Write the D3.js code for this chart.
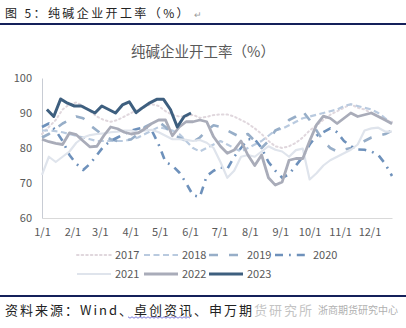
<!DOCTYPE html>
<html>
<head>
<meta charset="utf-8">
<script src="https://cdn.jsdelivr.net/npm/d3@7/dist/d3.min.js"></script>
<style>
  html, body { margin: 0; padding: 0; background: #fff; }
  svg { display: block; }
  text { font-family: "Noto Sans CJK SC", "Noto Sans", sans-serif; }
</style>
</head>
<body>
<svg id="chart" width="406" height="328"></svg>
<script>
// Weekly operating rate of soda ash producers (%), one row per year
const years = ["2017", "2018", "2019", "2020", "2021", "2022", "2023"];
const seriesStart = ["01-01", "01-01", "01-01", "01-01", "01-01", "01-01", "01-06"];

const rate2017 = [84, 86, 88, 91, 92.5, 93, 92, 90.5, 89, 88, 87.5, 88, 89, 90, 91, 92, 92.5, 92, 90.5, 89.5,
  89, 89, 89.5, 88.6, 88.9, 89.4, 89.6, 89.6, 89, 88, 87, 85.6, 84, 82, 80.5, 80, 80.5, 81.5, 83, 85,
  86.5, 88, 89.5, 90.5, 91.5, 92.5, 91.5, 91, 90, 89, 88, 87.5];
const rate2018 = [85, 85, 84.8, 84.5, 84, 83.5, 83, 82.5, 82, 82, 82, 82, 82, 82.5, 83, 84, 85, 86, 85.5, 85,
  84, 82, 80, 79, 80, 81, 82, 81, 80, 79, 80, 81, 82, 83.5, 85, 85.5, 86.5, 87.5, 88.5, 89,
  89.5, 90, 90.5, 91, 92, 92.5, 92, 91.5, 91, 90, 88.5, 87];
const rate2019 = [83, 84, 85.5, 87, 88, 89, 88.5, 86.5, 85, 83.5, 82.5, 82, 82, 82.5, 84, 86, 87, 87.5, 86, 84,
  83, 82, 81.8, 83, 85, 86.5, 86, 85, 84, 83, 84, 82, 80, 82, 85, 86, 88, 89, 90.5, 88,
  85, 82, 80, 79, 79.5, 80, 80.5, 82, 83, 83.5, 84, 85];
const rate2020 = [86, 87, 85, 82, 78, 75.5, 73.7, 75.5, 78, 80.5, 82, 83, 84, 85, 85.5, 86, 85, 81, 76, 75,
  73, 70, 66.5, 66, 72, 73.5, 74.5, 74, 77.5, 80, 82.5, 82.5, 80, 76, 73.5, 71.5, 72.5, 75, 77.5, 81,
  83.5, 84.5, 85.6, 84.5, 82, 80.5, 79.6, 79.5, 79, 78, 75.5, 72];
const rate2021 = [72.3, 77.5, 76, 77.5, 79, 81.5, 83, 83.7, 84, 84.2, 84.5, 84.7, 85, 85, 84.5, 85, 85.2, 84.5, 83.5, 82.5,
  82.5, 82.3, 82, 82.3, 81.5, 80, 76, 71.5, 73.5, 77.5, 78, 77.5, 79, 80.5, 79.5, 79, 77.5, 79.4, 79.8, 71,
  72.8, 75, 76.5, 77.5, 78.5, 79.5, 81, 85, 85.6, 85.8, 84.7, 84.7];
const rate2022 = [82.5, 81.8, 81.3, 81, 84.3, 83.8, 82, 80.3, 80.5, 83.5, 86, 85.5, 84.5, 84, 84.3, 85.5, 87, 88, 88, 83.5,
  86, 87.5, 87.5, 88, 87.5, 83.2, 80.5, 78.5, 79.4, 82, 78, 75, 78, 71.5, 69.4, 70.3, 76.5, 77, 77, 82,
  86.6, 89.1, 88.5, 87, 88.5, 90, 89, 89.5, 90, 89, 88, 86.9];
const rate2023 = [91, 89, 94, 92.8, 92, 92, 91, 90, 92, 91, 90, 92.3, 93.2, 90.1, 91.6, 92.9, 93.9, 93.9, 91, 86,
  89, 90];

const monthTicks = ["01-01", "02-01", "03-01", "04-01", "05-01", "06-01", "07-01", "08-01", "09-01", "10-01", "11-01", "12-01"];
const monthLabels = ["1/1", "2/1", "3/1", "4/1", "5/1", "6/1", "7/1", "8/1", "9/1", "10/1", "11/1", "12/1"];
const yTicks = [60, 70, 80, 90, 100];
const axisEnd = "12-24";

const values = [rate2017, rate2018, rate2019, rate2020, rate2021, rate2022, rate2023];

// All years are laid on one calendar year so the seasons line up
const baseYear = 2023;
const parseMD = md => { const [m, d] = md.split("-").map(Number); return new Date(baseYear, m - 1, d); };
const dayMs = 86400000;

const styles = [
  { color: "#e0d7dd", width: 2,   dash: "1.6,3",    cap: "round" },
  { color: "#b9cadf", width: 2.2, dash: "6,3.5",    cap: "butt" },
  { color: "#97aec8", width: 2.6, dash: "9,11",     cap: "butt" },
  { color: "#6e91bb", width: 2.6, dash: "8,6,1.8,6", cap: "butt" },
  { color: "#dfe4ec", width: 2.2, dash: null,       cap: "butt" },
  { color: "#a9acb9", width: 2.8, dash: null,       cap: "butt" },
  { color: "#3e5f7f", width: 3,   dash: null,       cap: "butt" }
];

const series = years.map((name, k) => {
  const start = parseMD(seriesStart[k]);
  return {
    name,
    style: styles[k],
    points: values[k].map((v, i) => ({ date: new Date(start.getTime() + i * 7 * dayMs), value: v }))
  };
});

const svg = d3.select("#chart");
const textColor = "#595959";

// Report heading and rules
svg.append("text")
  .attr("x", 5).attr("y", 18)
  .attr("font-size", 12).attr("letter-spacing", 2.4)
  .attr("fill", "#222")
  .text("图 5：纯碱企业开工率（%）");
svg.append("text")
  .attr("x", 194).attr("y", 18)
  .attr("font-size", 9).attr("fill", "#9a9a9a")
  .text("↵");
svg.append("rect").attr("x", 0).attr("y", 23).attr("width", 406).attr("height", 2).attr("fill", "#14205a");

// Chart title
svg.append("text")
  .attr("x", 203).attr("y", 57)
  .attr("text-anchor", "middle")
  .attr("font-size", 14.5).attr("fill", textColor)
  .text("纯碱企业开工率（%）");

// Scales
const x = d3.scaleTime().domain([parseMD("01-01"), parseMD(axisEnd)]).range([42, 392]);
const y = d3.scaleLinear().domain([60, 100]).range([218, 78]);

// Axes
const xAxis = svg.append("g")
  .attr("transform", `translate(0,${y(60)})`)
  .call(d3.axisBottom(x)
    .tickValues(monthTicks.map(parseMD))
    .tickFormat((d, i) => monthLabels[i])
    .tickSize(0).tickPadding(10));
xAxis.select(".domain").attr("stroke", "#d9d9d9").attr("stroke-width", 1);
xAxis.selectAll("text").attr("font-size", 11).attr("fill", textColor)
  .attr("font-family", "'Noto Sans', sans-serif");

const yAxis = svg.append("g")
  .attr("transform", `translate(${x(parseMD("01-01"))},0)`)
  .call(d3.axisLeft(y).tickValues(yTicks).tickSize(0).tickPadding(10));
yAxis.select(".domain").attr("stroke", "#c8ccd4").attr("stroke-width", 1);
yAxis.selectAll("text").attr("font-size", 11).attr("fill", textColor)
  .attr("font-family", "'Noto Sans', sans-serif");

// Lines
const line = d3.line()
  .x(d => x(d.date))
  .y(d => y(d.value));

svg.append("g").selectAll("path")
  .data(series)
  .join("path")
  .attr("d", s => line(s.points))
  .attr("fill", "none")
  .attr("stroke", s => s.style.color)
  .attr("stroke-width", s => s.style.width)
  .attr("stroke-dasharray", s => s.style.dash)
  .attr("stroke-linecap", s => s.style.cap)
  .attr("stroke-linejoin", "round");

// Legend, two rows
const legendPos = [
  [77, 255], [144, 255], [209, 255], [275, 255],
  [77, 274], [144, 274], [209, 274]
];
const legend = svg.append("g").selectAll("g")
  .data(series)
  .join("g")
  .attr("transform", (s, i) => `translate(${legendPos[i][0]},${legendPos[i][1]})`);
legend.append("line")
  .attr("x1", 0).attr("x2", 34).attr("y1", 0).attr("y2", 0)
  .attr("stroke", s => s.style.color)
  .attr("stroke-width", s => s.style.width)
  .attr("stroke-dasharray", s => s.style.dash)
  .attr("stroke-linecap", s => s.style.cap);
legend.append("text")
  .attr("x", 38).attr("y", 4)
  .attr("font-size", 11).attr("fill", textColor)
  .attr("font-family", "'Noto Sans', sans-serif")
  .text(s => s.name);

// Source note
svg.append("rect").attr("x", 0).attr("y", 295).attr("width", 406).attr("height", 2).attr("fill", "#14205a");
const note = svg.append("text")
  .attr("x", 5).attr("y", 315)
  .attr("font-size", 13).attr("letter-spacing", 2)
  .attr("fill", "#222");
note.append("tspan").text("资料来源：Wind、卓创资讯、申万期");
note.append("tspan").attr("fill", "#c4c4c4").text("货研究所");
svg.append("text")
  .attr("x", 318).attr("y", 314)
  .attr("font-size", 10).attr("fill", "#b0b0b0")
  .text("浙商期货研究中心");

// Spell-check squiggle under the data vendor name
const squiggle = d3.range(128, 191, 2).map((px, i) => [px, 317 + (i % 2 ? 1.2 : -0.2)]);
svg.append("path")
  .attr("d", d3.line()(squiggle))
  .attr("fill", "none").attr("stroke", "#5a5ad0").attr("stroke-width", 0.8);
</script>
</body>
</html>
